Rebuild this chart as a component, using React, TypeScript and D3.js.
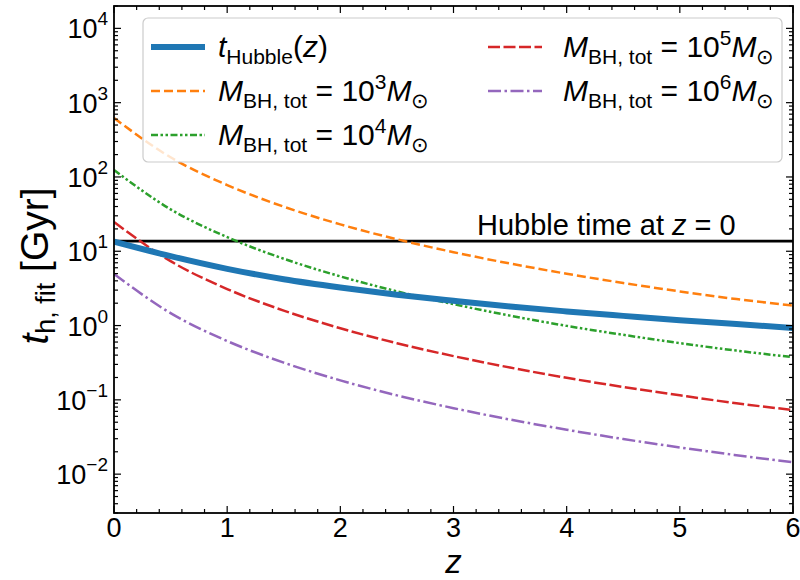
import React from "react";
import * as d3 from "d3";

// Redshift grid and timescales [Gyr]
const zGrid = [0, 0.5, 1, 1.5, 2, 2.5, 3, 3.5, 4, 4.5, 5, 5.5, 6];
const tHubble = [13.5, 8.6, 5.8, 4.2, 3.25, 2.6, 2.15, 1.8, 1.55, 1.35, 1.18, 1.05, 0.93];
const tM1e3 = [622, 184, 77.8, 39.8, 23.0, 14.5, 9.72, 6.83, 4.98, 3.74, 2.88, 2.27, 1.86];
const tM1e4 = [124, 36.7, 15.5, 7.93, 4.59, 2.89, 1.94, 1.36, 0.99, 0.75, 0.58, 0.46, 0.375];
const tM1e5 = [24.8, 7.35, 3.1, 1.59, 0.92, 0.578, 0.388, 0.272, 0.198, 0.149, 0.115, 0.09, 0.073];
const tM1e6 = [4.95, 1.47, 0.619, 0.317, 0.183, 0.115, 0.0773, 0.0543, 0.0396, 0.0297, 0.0229, 0.018, 0.0145];
const hubbleTimeNow = 13.7;

const xTicks = [0, 1, 2, 3, 4, 5, 6];
const yDecades = [-2, -1, 0, 1, 2, 3, 4];

const W = 800;
const H = 580;
const left = 114;
const right = 793;
const top = 6;
const bottom = 513;

const FONT = "'Liberation Sans', Arial, Helvetica, sans-serif";

export default function App() {
  const x = d3.scaleLinear().domain([0, 6]).range([left, right]);
  const y = d3.scaleLog().domain([3e-3, 2e4]).range([bottom, top]);

  const line = d3
    .line<number>()
    .x((_, i) => x(zGrid[i]))
    .y((d) => y(d))
    .curve(d3.curveMonotoneX);

  const series = [
    { data: tM1e3, color: "#ff7f0e", dash: "9,4", width: 2.5 },
    { data: tM1e4, color: "#2ca02c", dash: "7,2.5,2.5,2.5,2.5,2.5", width: 2.5 },
    { data: tM1e5, color: "#d62728", dash: "12,3.5", width: 2.5 },
    { data: tM1e6, color: "#9467bd", dash: "13,3.5,2.5,3.5", width: 2.5 },
  ];

  const xMinor = d3.range(0, 6.001, 0.2).filter((v) => Math.abs(v - Math.round(v)) > 1e-6);
  const yMinor: number[] = [];
  for (let e = -3; e <= 4; e++) {
    for (let m = 2; m <= 9; m++) {
      const v = m * Math.pow(10, e);
      if (v >= 3e-3 && v <= 2e4) yMinor.push(v);
    }
  }

  const legendRows = [
    { col: 0, row: 0, kind: "hubble", color: "#1f77b4", dash: "", width: 6 },
    { col: 0, row: 1, kind: "3", color: "#ff7f0e", dash: "9,4", width: 2.5 },
    { col: 0, row: 2, kind: "4", color: "#2ca02c", dash: "7,2.5,2.5,2.5,2.5,2.5", width: 2.5 },
    { col: 1, row: 0, kind: "5", color: "#d62728", dash: "12,3.5", width: 2.5 },
    { col: 1, row: 1, kind: "6", color: "#9467bd", dash: "13,3.5,2.5,3.5", width: 2.5 },
  ];
  const colHandleX = [151, 488];
  const handleLen = 54;
  const colTextX = [218, 563];
  const rowY = [47, 91, 135];

  const massLabel = (exp: string) => (
    <>
      <tspan fontStyle="italic">M</tspan>
      <tspan fontSize={21} dy={7}>BH, tot</tspan>
      <tspan dy={-7}> = 10</tspan>
      <tspan fontSize={21} dy={-12}>{exp}</tspan>
      <tspan fontStyle="italic" dy={12}>M</tspan>
      <tspan fontSize={21} dy={7}>⊙</tspan>
    </>
  );

  return (
    <svg width={W} height={H} style={{ position: "absolute", left: 0, top: 0, background: "#fff" }} fontFamily={FONT}>
      <defs>
        <clipPath id="plotArea">
          <rect x={left} y={top} width={right - left} height={bottom - top} />
        </clipPath>
      </defs>

      <g clipPath="url(#plotArea)">
        <line x1={left} x2={right} y1={y(hubbleTimeNow)} y2={y(hubbleTimeNow)} stroke="#000" strokeWidth={2.6} />
        {series.map((s, i) => (
          <path key={i} d={line(s.data) || ""} fill="none" stroke={s.color} strokeWidth={s.width} strokeDasharray={s.dash} />
        ))}
        <path d={line(tHubble) || ""} fill="none" stroke="#1f77b4" strokeWidth={6} />
      </g>

      <text x={477} y={y(hubbleTimeNow) - 6} fontSize={29} fill="#000">
        Hubble time at <tspan fontStyle="italic">z</tspan> = 0
      </text>

      {/* ticks, all pointing inward */}
      <g stroke="#000" strokeWidth={1.2}>
        {xTicks.map((t) => (
          <g key={"xt" + t}>
            <line x1={x(t)} x2={x(t)} y1={bottom} y2={bottom - 7} />
            <line x1={x(t)} x2={x(t)} y1={top} y2={top + 7} />
          </g>
        ))}
        {xMinor.map((t, i) => (
          <g key={"xm" + i}>
            <line x1={x(t)} x2={x(t)} y1={bottom} y2={bottom - 4} />
            <line x1={x(t)} x2={x(t)} y1={top} y2={top + 4} />
          </g>
        ))}
        {yDecades.map((e) => (
          <g key={"yt" + e}>
            <line x1={left} x2={left + 7} y1={y(Math.pow(10, e))} y2={y(Math.pow(10, e))} />
            <line x1={right} x2={right - 7} y1={y(Math.pow(10, e))} y2={y(Math.pow(10, e))} />
          </g>
        ))}
        {yMinor.map((v, i) => (
          <g key={"ym" + i}>
            <line x1={left} x2={left + 4} y1={y(v)} y2={y(v)} />
            <line x1={right} x2={right - 4} y1={y(v)} y2={y(v)} />
          </g>
        ))}
      </g>

      <rect x={left} y={top} width={right - left} height={bottom - top} fill="none" stroke="#000" strokeWidth={1.8} />

      {xTicks.map((t) => (
        <text key={"xl" + t} x={x(t)} y={bottom + 23.5} fontSize={27} textAnchor="middle" fill="#000">
          {t}
        </text>
      ))}
      {yDecades.map((e) => (
        <text key={"yl" + e} x={left - 6} y={y(Math.pow(10, e)) + 10} fontSize={27} textAnchor="end" fill="#000">
          10<tspan fontSize={19} dy={-13}>{e < 0 ? "\u2212" + Math.abs(e) : String(e)}</tspan>
        </text>
      ))}

      <text x={(left + right) / 2} y={572.5} fontSize={33} fontStyle="italic" textAnchor="middle" fill="#000">
        z
      </text>
      <text transform={`translate(48, 266) rotate(-90)`} fontSize={39} textAnchor="middle" fill="#000">
        <tspan fontStyle="italic">t</tspan>
        <tspan fontSize={27} dy={7}>h, fit</tspan>
        <tspan dy={-7}> [Gyr]</tspan>
      </text>

      {/* legend */}
      <rect x={143} y={18} width={639} height={144} rx={5} fill="#fff" fillOpacity={0.8} stroke="#cccccc" strokeWidth={1.2} />
      {legendRows.map((r, i) => (
        <g key={"lg" + i}>
          <line
            x1={colHandleX[r.col]}
            x2={colHandleX[r.col] + handleLen}
            y1={rowY[r.row]}
            y2={rowY[r.row]}
            stroke={r.color}
            strokeWidth={r.width}
            strokeDasharray={r.dash}
          />
          <text x={colTextX[r.col]} y={rowY[r.row] + 10} fontSize={30} fill="#000">
            {r.kind === "hubble" ? (
              <>
                <tspan fontStyle="italic">t</tspan>
                <tspan fontSize={21} dy={7}>Hubble</tspan>
                <tspan dy={-7}>(</tspan>
                <tspan fontStyle="italic">z</tspan>
                <tspan>)</tspan>
              </>
            ) : (
              massLabel(r.kind)
            )}
          </text>
        </g>
      ))}
    </svg>
  );
}
